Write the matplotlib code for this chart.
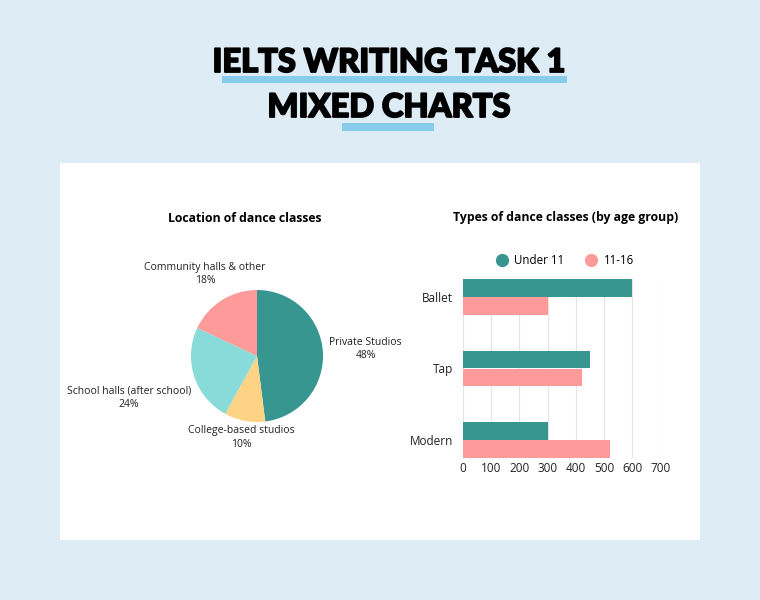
import numpy as np
import matplotlib
matplotlib.use("Agg")
import matplotlib.pyplot as plt
import matplotlib.patheffects as pe
from matplotlib.patches import Rectangle
from matplotlib.lines import Line2D

# pie data
pie_labels = ["Private Studios", "College-based studios", "School halls (after school)", "Community halls & other"]
pie_values = [48, 10, 24, 18]
pie_colors = ["#379690", "#fed386", "#88dbd9", "#fe9a9a"]

# bar data
dance_types = ["Ballet", "Tap", "Modern"]
under_11 = [600, 450, 300]
age_11_16 = [300, 420, 520]
x_ticks = [0, 100, 200, 300, 400, 500, 600, 700]

BG = "#deedf5"
BAR_BLUE = "#87cde9"
W, H = 760, 600

plt.rcParams['font.family'] = ['Open Sans', 'DejaVu Sans']

fig = plt.figure(figsize=(7.6, 6), dpi=100, facecolor=BG)

def fx(px):
    return px / W

def fy(py):
    return 1 - py / H

# white panel
fig.patches.append(Rectangle((fx(60), fy(540)), fx(700) - fx(60), fy(163) - fy(540),
                             transform=fig.transFigure, facecolor="white", edgecolor="none", zorder=-5))

# title underline bars
fig.patches.append(Rectangle((fx(222), fy(83)), fx(567) - fx(222), fy(76) - fy(83),
                             transform=fig.transFigure, facecolor=BAR_BLUE, edgecolor="none", zorder=-4))
fig.patches.append(Rectangle((fx(342), fy(131)), fx(434) - fx(342), fy(123) - fy(131),
                             transform=fig.transFigure, facecolor=BAR_BLUE, edgecolor="none", zorder=-4))

thick = [pe.withStroke(linewidth=1.3, foreground="black")]
fig.text(fx(389), fy(72), "IELTS WRITING TASK 1", ha="center", va="baseline",
         fontsize=23.5, fontweight="black", family=["Lato", "DejaVu Sans"], color="black",
         zorder=3, path_effects=thick)
fig.text(fx(389), fy(117), "MIXED CHARTS", ha="center", va="baseline",
         fontsize=23.5, fontweight="black", family=["Lato", "DejaVu Sans"], color="black",
         zorder=3, path_effects=thick)

# ---- pie ----
cx, cy, r = 257, 356, 66
ax1 = fig.add_axes([fx(cx - r), fy(cy + r), fx(2 * r), fy(cy - r) - fy(cy + r)])
ax1.patch.set_alpha(0)
wedges, _ = ax1.pie(pie_values, colors=pie_colors, startangle=90, counterclock=False,
                    radius=1, wedgeprops=dict(linewidth=0))
ax1.set_xlim(-1, 1)
ax1.set_ylim(-1, 1)
ax1.set_aspect("equal")
ax1.axis("off")

label_dist = [1.65, 1.26, 2.04, 1.47]
for w, lab, v, d in zip(wedges, pie_labels, pie_values, label_dist):
    ang = np.deg2rad((w.theta1 + w.theta2) / 2)
    ax1.text(d * np.cos(ang), d * np.sin(ang), f"{lab}\n{v}%", ha="center", va="center",
             fontsize=7.5, color="#222222", linespacing=1.3, clip_on=False)

fig.text(fx(245), fy(218), "Location of dance classes", ha="center", va="center",
         fontsize=8.8, fontweight="bold", color="black")

# ---- bars ----
ax2 = fig.add_axes([fx(463), fy(458), fx(660.6) - fx(463), fy(279) - fy(458)])
ax2.patch.set_alpha(0)
y = np.arange(len(dance_types))
h = 0.243
ax2.barh(y - h / 2 - 0.005, under_11, height=h, color="#379690", zorder=3, label="Under 11")
ax2.barh(y + h / 2 + 0.005, age_11_16, height=h, color="#fe9a9a", zorder=3, label="11-16")
ax2.set_xlim(0, 700)
ax2.set_ylim(2.25, -0.25)
ax2.set_xticks(x_ticks)
ax2.set_yticks(y)
ax2.set_yticklabels(dance_types)
ax2.tick_params(axis="both", length=0, labelsize=8.5, colors="#222222")
ax2.tick_params(axis="y", pad=7)
ax2.tick_params(axis="x", pad=3)
ax2.grid(axis="x", color="#e4e4e4", linewidth=0.8, zorder=0)
for s in ax2.spines.values():
    s.set_visible(False)

handles = [Line2D([], [], marker="o", linestyle="", markersize=8.5, color="#379690"),
           Line2D([], [], marker="o", linestyle="", markersize=8.5, color="#fe9a9a")]
ax2.legend(handles, ["Under 11", "11-16"], loc="lower center", bbox_to_anchor=(0.5, 1.04),
           ncol=2, frameon=False, fontsize=8.3, handletextpad=0.1, columnspacing=1.3,
           borderaxespad=0)

fig.text(fx(566), fy(218), "Types of dance classes (by age group)", ha="center", va="center",
         fontsize=8.8, fontweight="bold", color="black")

fig.savefig("out.png", dpi=100, facecolor=BG)
